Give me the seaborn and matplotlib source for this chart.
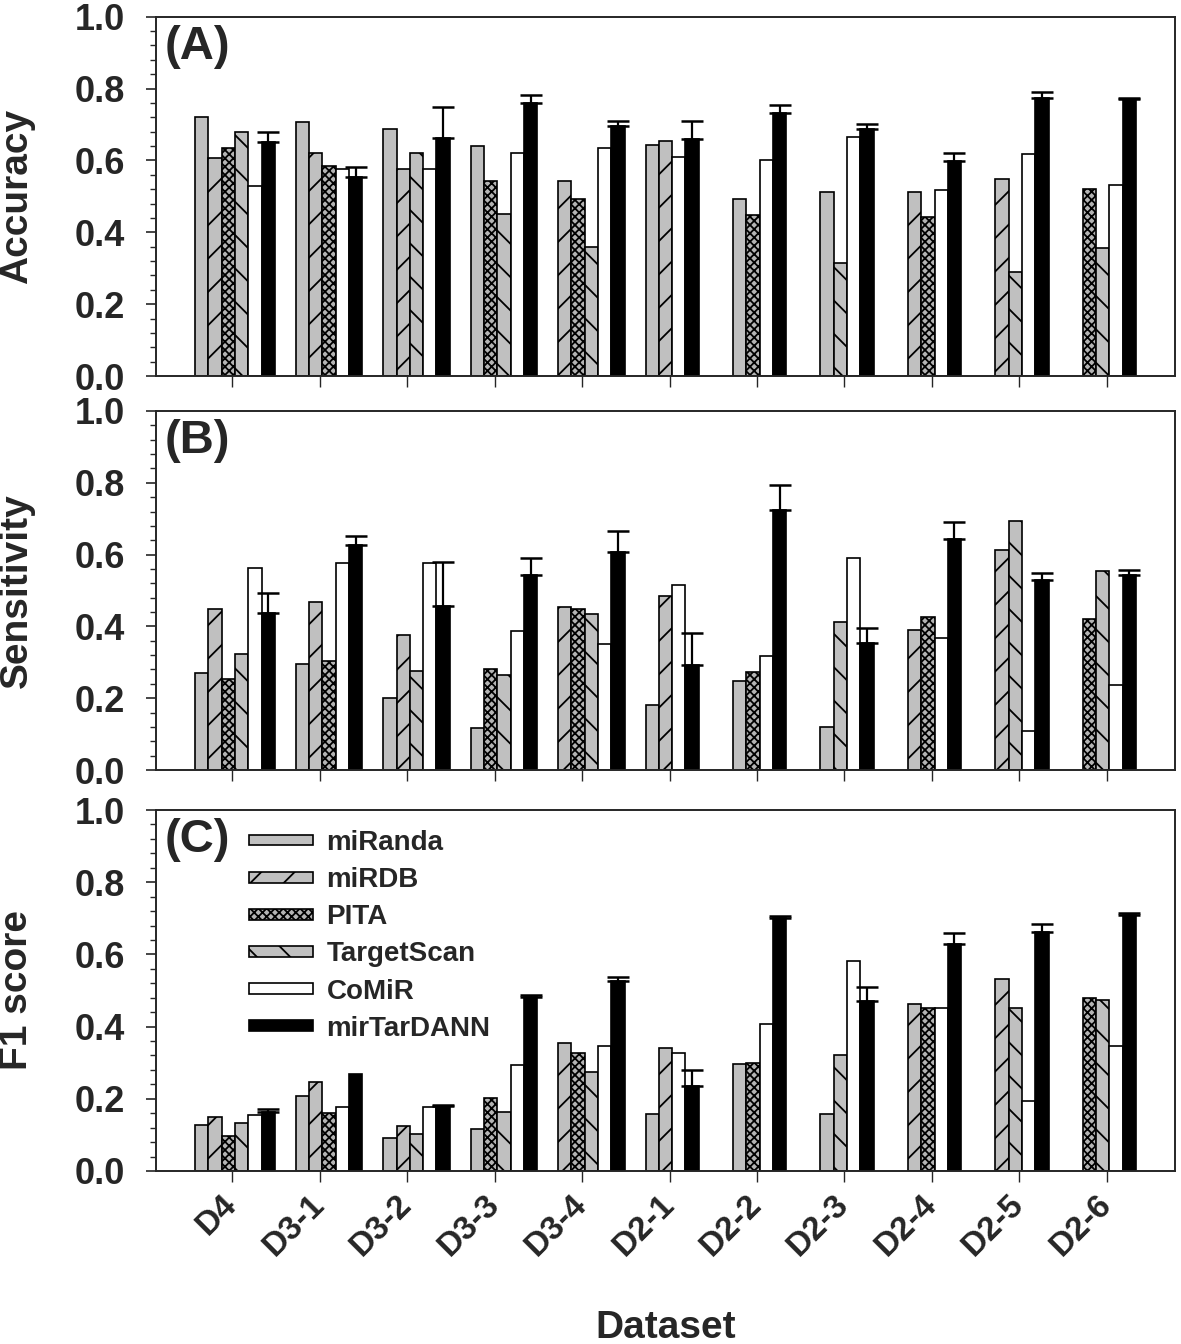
import numpy as np
import pandas as pd
import matplotlib
matplotlib.use("Agg")
import matplotlib.pyplot as plt
import seaborn as sns
from matplotlib.patches import Patch
from matplotlib.ticker import MultipleLocator

# ---------------- data ----------------
datasets = ["D4", "D3-1", "D3-2", "D3-3", "D3-4", "D2-1", "D2-2", "D2-3", "D2-4", "D2-5", "D2-6"]
methods = ["miRanda", "miRDB", "PITA", "TargetScan", "CoMiR", "mirTarDANN"]
nan = np.nan

acc_miranda = [0.720, 0.707, 0.687, 0.640, nan, 0.643, 0.493, 0.513, nan, nan, nan]
acc_mirdb = [0.606, 0.621, 0.577, nan, 0.544, 0.654, nan, nan, 0.513, 0.547, nan]
acc_pita = [0.634, 0.585, nan, 0.544, 0.492, nan, 0.447, nan, 0.443, nan, 0.520]
acc_targetscan = [0.678, nan, 0.621, 0.451, 0.360, nan, nan, 0.315, nan, 0.290, 0.355]
acc_comir = [0.529, 0.575, 0.575, 0.621, 0.634, 0.610, 0.600, 0.664, 0.519, 0.617, 0.532]
acc_mirtardann = [0.651, 0.555, 0.662, 0.759, 0.697, 0.659, 0.731, 0.687, 0.597, 0.773, 0.770]
acc_err = [0.027, 0.028, 0.088, 0.024, 0.012, 0.050, 0.022, 0.015, 0.024, 0.018, 0.003]

sen_miranda = [0.269, 0.294, 0.200, 0.116, nan, 0.181, 0.248, 0.120, nan, nan, nan]
sen_mirdb = [0.448, 0.467, 0.376, nan, 0.453, 0.486, nan, nan, 0.390, 0.613, nan]
sen_pita = [0.253, 0.304, nan, 0.281, 0.448, nan, 0.272, nan, 0.427, nan, 0.421]
sen_targetscan = [0.323, nan, 0.276, 0.265, 0.435, nan, nan, 0.413, nan, 0.694, 0.553]
sen_comir = [0.562, 0.576, 0.576, 0.387, 0.350, 0.515, 0.318, 0.590, 0.368, 0.110, 0.238]
sen_mirtardann = [0.438, 0.627, 0.457, 0.543, 0.606, 0.292, 0.724, 0.354, 0.643, 0.529, 0.544]
sen_err = [0.054, 0.026, 0.121, 0.047, 0.060, 0.089, 0.070, 0.041, 0.047, 0.021, 0.013]

f1_miranda = [0.128, 0.209, 0.091, 0.115, nan, 0.157, 0.297, 0.158, nan, nan, nan]
f1_mirdb = [0.150, 0.246, 0.125, nan, 0.355, 0.341, nan, nan, 0.463, 0.531, nan]
f1_pita = [0.097, 0.160, nan, 0.201, 0.327, nan, 0.299, nan, 0.452, nan, 0.478]
f1_targetscan = [0.134, nan, 0.103, 0.164, 0.273, nan, nan, 0.322, nan, 0.452, 0.473]
f1_comir = [0.154, 0.178, 0.178, 0.294, 0.346, 0.328, 0.408, 0.582, 0.452, 0.194, 0.347]
f1_mirtardann = [0.163, 0.270, 0.180, 0.481, 0.525, 0.236, 0.702, 0.471, 0.629, 0.661, 0.708]
f1_err = [0.008, 0.0, 0.002, 0.007, 0.012, 0.044, 0.005, 0.040, 0.031, 0.022, 0.008]

panels = [
    ("(A)", "Accuracy", [acc_miranda, acc_mirdb, acc_pita, acc_targetscan, acc_comir, acc_mirtardann], acc_err),
    ("(B)", "Sensitivity", [sen_miranda, sen_mirdb, sen_pita, sen_targetscan, sen_comir, sen_mirtardann], sen_err),
    ("(C)", "F1 score", [f1_miranda, f1_mirdb, f1_pita, f1_targetscan, f1_comir, f1_mirtardann], f1_err),
]

# ---------------- style ----------------
sns.set_theme(style="ticks")
plt.rcParams["font.family"] = ["Liberation Sans", "DejaVu Sans"]
plt.rcParams["font.weight"] = "bold"
plt.rcParams["hatch.linewidth"] = 1.3
plt.rcParams["axes.linewidth"] = 1.4

palette = {"miRanda": "#c0c0c0", "miRDB": "#c0c0c0", "PITA": "#b4b4b4",
           "TargetScan": "#c0c0c0", "CoMiR": "#ffffff", "mirTarDANN": "#000000"}
hatches = {"miRanda": "", "miRDB": "/", "PITA": "xxxx", "TargetScan": "\\",
           "CoMiR": "", "mirTarDANN": ""}

BW = 0.152  # bar width in group units


def build_frame(series):
    rows = []
    for g, ds in enumerate(datasets):
        present = [(m, s[g]) for m, s in zip(methods, series) if not np.isnan(s[g])]
        n = len(present)
        center = g + 0.03 + (0.5 * BW if n % 2 else 0.0)
        for i, (m, v) in enumerate(present):
            pos = round(center + (i - (n - 1) / 2) * BW, 5)
            rows.append({"pos": pos, "value": v, "method": m, "group": g})
    return pd.DataFrame(rows)


fig = plt.figure(figsize=(11.81, 13.44), dpi=100)
W, H = 1181, 1344
L, R = 156 / W, 1175 / W
boxes = [(16.7, 376), (411, 770), (810, 1171)]

for k, ((tag, ylabel, series, err), (ytop, ybot)) in enumerate(zip(panels, boxes)):
    ax = fig.add_axes([L, 1 - ybot / H, R - L, (ybot - ytop) / H])
    df = build_frame(series)
    sns.barplot(data=df, x="pos", y="value", hue="method", hue_order=methods,
                palette=palette, native_scale=True, dodge=False, width=1.0,
                errorbar=None, legend=False, saturation=1, edgecolor="black",
                linewidth=1.2, ax=ax)
    for m, cont in zip(methods, ax.containers):
        for p in cont:
            p.set_hatch(hatches[m])
            p.set_edgecolor("black")

    # error bars (upper only) for mirTarDANN
    dd = df[df["method"] == "mirTarDANN"].sort_values("group")
    e = np.array(err)
    mask = e > 0
    ax.errorbar(dd["pos"].values[mask], dd["value"].values[mask],
                yerr=[np.zeros(mask.sum()), e[mask]], fmt="none", ecolor="black",
                elinewidth=1.6, capsize=8, capthick=1.8, zorder=5)

    ax.set_xlim(-0.873, 10.78)
    ax.set_ylim(0, 1.0)
    ax.yaxis.set_major_locator(MultipleLocator(0.2))
    ax.yaxis.set_minor_locator(MultipleLocator(0.04))
    ax.set_yticks(np.arange(0, 1.01, 0.2))
    ax.set_yticklabels([f"{v:.1f}" for v in np.arange(0, 1.01, 0.2)],
                       fontsize=26, fontweight="bold")
    ax.tick_params(axis="y", which="major", direction="out", length=7.5, width=1.2, pad=15)
    ax.tick_params(axis="y", which="minor", direction="out", length=4.3, width=1.0)
    ax.set_xticks(range(len(datasets)))
    ax.tick_params(axis="x", which="major", direction="out", length=8, width=1.0)
    ax.tick_params(axis="x", which="minor", bottom=False)
    if k == 2:
        ax.set_xticklabels(datasets, rotation=45, ha="right", va="center",
                           rotation_mode="anchor", fontsize=24, fontweight="bold")
        ax.tick_params(axis="x", pad=13)
    else:
        ax.set_xticklabels([])
    ax.set_xlabel("")
    ax.set_ylabel(ylabel, fontsize=28, fontweight="bold")
    ax.yaxis.set_label_coords((35 - 156) / 1019, 0.5)
    for s in ax.spines.values():
        s.set_visible(True)
        s.set_linewidth(1.4)
    ax.text(0.008, 0.978, tag, transform=ax.transAxes, ha="left", va="top",
            fontsize=34, fontweight="bold")

    if k == 2:
        handles = [Patch(facecolor=palette[m], edgecolor="black", hatch=hatches[m],
                         linewidth=1.2, label=m) for m in methods]
        leg = ax.legend(handles=handles, loc="upper left", bbox_to_anchor=(0.08, 0.975),
                        frameon=False, prop={"size": 20, "weight": "bold"},
                        handlelength=2.3, handleheight=0.22, handletextpad=0.5,
                        labelspacing=0.4, borderaxespad=0)

fig.text((156 + 1175) / 2 / W, 1 - 1328 / H, "Dataset", ha="center", va="center",
         fontsize=28, fontweight="bold")

fig.savefig("out.png", dpi=100)
